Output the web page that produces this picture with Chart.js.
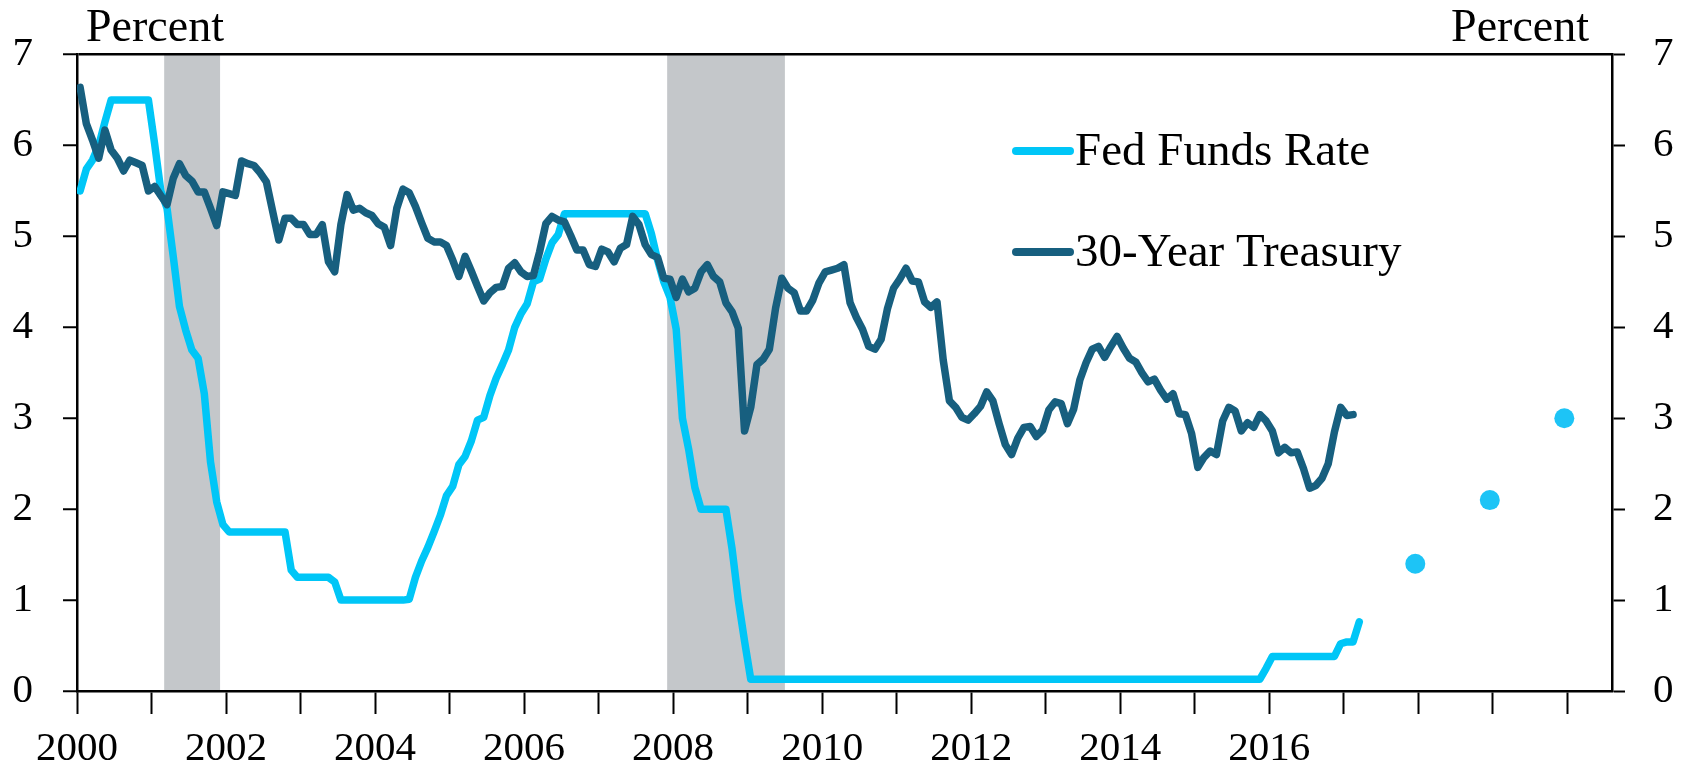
<!DOCTYPE html>
<html>
<head>
<meta charset="utf-8">
<title>Fed Funds Rate and 30-Year Treasury</title>
<script src="https://cdn.jsdelivr.net/npm/chart.js@4.4.1/dist/chart.umd.min.js"></script>
<style>
  html, body { margin: 0; padding: 0; background: #fff; }
  #wrap { width: 1687px; height: 765px; }
</style>
</head>
<body>
<div id="wrap"><canvas id="rates" width="1687" height="765"></canvas></div>
<script>
// Monthly series, first value is January 2000
const startYear = 2000;

// Fed funds rate (monthly average of target, %)
const fedFunds = [
    5.50, 5.74, 5.84, 6.00, 6.26, 6.50, 6.50, 6.50, 6.50, 6.50, 6.50, 6.50,
    6.02, 5.50, 5.31, 4.78, 4.23, 3.97, 3.75, 3.66, 3.27, 2.52, 2.08, 1.83,
    1.75, 1.75, 1.75, 1.75, 1.75, 1.75, 1.75, 1.75, 1.75, 1.75, 1.33, 1.25,
    1.25, 1.25, 1.25, 1.25, 1.25, 1.20, 1.00, 1.00, 1.00, 1.00, 1.00, 1.00,
    1.00, 1.00, 1.00, 1.00, 1.00, 1.01, 1.25, 1.43, 1.58, 1.75, 1.93, 2.15,
    2.25, 2.49, 2.58, 2.75, 2.98, 3.01, 3.25, 3.44, 3.59, 3.75, 4.00, 4.15,
    4.26, 4.50, 4.53, 4.75, 4.93, 5.02, 5.25, 5.25, 5.25, 5.25, 5.25, 5.25,
    5.25, 5.25, 5.25, 5.25, 5.25, 5.25, 5.25, 5.25, 5.03, 4.74, 4.50, 4.33,
    3.98, 3.00, 2.66, 2.24, 2.00, 2.00, 2.00, 2.00, 2.00, 1.56, 1.00, 0.55,
    0.13, 0.13, 0.13, 0.13, 0.13, 0.13, 0.13, 0.13, 0.13, 0.13, 0.13, 0.13,
    0.13, 0.13, 0.13, 0.13, 0.13, 0.13, 0.13, 0.13, 0.13, 0.13, 0.13, 0.13,
    0.13, 0.13, 0.13, 0.13, 0.13, 0.13, 0.13, 0.13, 0.13, 0.13, 0.13, 0.13,
    0.13, 0.13, 0.13, 0.13, 0.13, 0.13, 0.13, 0.13, 0.13, 0.13, 0.13, 0.13,
    0.13, 0.13, 0.13, 0.13, 0.13, 0.13, 0.13, 0.13, 0.13, 0.13, 0.13, 0.13,
    0.13, 0.13, 0.13, 0.13, 0.13, 0.13, 0.13, 0.13, 0.13, 0.13, 0.13, 0.13,
    0.13, 0.13, 0.13, 0.13, 0.13, 0.13, 0.13, 0.13, 0.13, 0.13, 0.13, 0.25,
    0.38, 0.38, 0.38, 0.38, 0.38, 0.38, 0.38, 0.38, 0.38, 0.38, 0.38, 0.52,
    0.54, 0.54, 0.76
];

// 30-year Treasury yield (monthly, %)
const treasury30 = [
    6.64, 6.24, 6.06, 5.86, 6.17, 5.95, 5.86, 5.72, 5.84, 5.81, 5.78, 5.50,
    5.55, 5.45, 5.35, 5.64, 5.80, 5.67, 5.61, 5.49, 5.49, 5.31, 5.12, 5.49,
    5.47, 5.45, 5.83, 5.80, 5.78, 5.70, 5.60, 5.28, 4.96, 5.20, 5.20, 5.13,
    5.13, 5.02, 5.02, 5.13, 4.72, 4.61, 5.13, 5.46, 5.29, 5.31, 5.26, 5.23,
    5.14, 5.10, 4.90, 5.31, 5.52, 5.48, 5.33, 5.15, 4.98, 4.94, 4.94, 4.90,
    4.74, 4.56, 4.78, 4.62, 4.45, 4.29, 4.38, 4.44, 4.45, 4.65, 4.71, 4.61,
    4.56, 4.57, 4.83, 5.14, 5.22, 5.18, 5.16, 5.01, 4.85, 4.85, 4.69, 4.67,
    4.86, 4.83, 4.72, 4.87, 4.91, 5.22, 5.13, 4.91, 4.80, 4.77, 4.54, 4.53,
    4.33, 4.53, 4.39, 4.43, 4.61, 4.69, 4.56, 4.50, 4.27, 4.17, 3.99, 2.86,
    3.12, 3.59, 3.65, 3.76, 4.21, 4.54, 4.43, 4.38, 4.18, 4.18, 4.30, 4.49,
    4.61, 4.63, 4.65, 4.69, 4.27, 4.11, 3.98, 3.79, 3.76, 3.87, 4.20, 4.43,
    4.53, 4.65, 4.51, 4.50, 4.28, 4.22, 4.28, 3.64, 3.19, 3.12, 3.01, 2.98,
    3.05, 3.13, 3.29, 3.19, 2.94, 2.71, 2.60, 2.78, 2.90, 2.91, 2.80, 2.87,
    3.09, 3.18, 3.16, 2.94, 3.10, 3.42, 3.61, 3.76, 3.79, 3.67, 3.79, 3.90,
    3.77, 3.66, 3.62, 3.50, 3.40, 3.43, 3.31, 3.21, 3.27, 3.05, 3.04, 2.83,
    2.46, 2.57, 2.64, 2.60, 2.97, 3.12, 3.08, 2.86, 2.95, 2.90, 3.04, 2.97,
    2.86, 2.62, 2.68, 2.62, 2.63, 2.45, 2.23, 2.26, 2.34, 2.50, 2.85, 3.12,
    3.03, 3.04
];

// FOMC median projections (year-end)
const projYears = [2017.96, 2018.96, 2019.96];
const projValues = [1.4, 2.1, 3.0];

// Recessions [start, end] in fractional years
const recessions = [[2001.17, 2001.92], [2007.92, 2009.5]];

const yTicks = [0, 1, 2, 3, 4, 5, 6, 7];
const xLabelYears = [2000, 2002, 2004, 2006, 2008, 2010, 2012, 2014, 2016];

const FF_COLOR = '#00C6F7';
const UST_COLOR = '#175F7F';
const SERIF = '"Liberation Serif", "Times New Roman", serif';

// month index -> mid-month position on the year axis
const toPoints = values => values.map((v, i) => ({ x: startYear + (i + 0.5) / 12, y: v }));

Chart.defaults.font.family = SERIF;
Chart.defaults.font.size = 41;
Chart.defaults.color = '#000';

// Recession bars, "Percent" titles and the in-plot legend
const overlay = {
    id: 'overlay',
    beforeDraw(chart) {
        const { ctx, chartArea: a, scales: { x } } = chart;
        ctx.save();
        ctx.fillStyle = '#C4C7CA';
        recessions.forEach(([s, e]) => {
            const x0 = x.getPixelForValue(s);
            const x1 = x.getPixelForValue(e);
            ctx.fillRect(x0, a.top, x1 - x0, a.bottom - a.top);
        });
        ctx.restore();
    },
    afterDraw(chart) {
        const { ctx, chartArea: a } = chart;
        ctx.save();
        ctx.font = '46px ' + SERIF;
        ctx.fillStyle = '#000';
        ctx.textBaseline = 'alphabetic';
        ctx.textAlign = 'left';
        ctx.fillText('Percent', a.left + 9, 41);
        ctx.textAlign = 'right';
        ctx.fillText('Percent', a.right - 23, 41);

        const items = [
            { label: 'Fed Funds Rate', color: FF_COLOR, y: 151 },
            { label: '30-Year Treasury', color: UST_COLOR, y: 252 }
        ];
        ctx.font = '47px ' + SERIF;
        ctx.textAlign = 'left';
        ctx.lineCap = 'round';
        ctx.lineWidth = 8;
        items.forEach(it => {
            ctx.strokeStyle = it.color;
            ctx.beginPath();
            ctx.moveTo(1016, it.y);
            ctx.lineTo(1070, it.y);
            ctx.stroke();
            ctx.fillText(it.label, 1075, it.y + 14);
        });
        ctx.restore();
    }
};

const ctx = document.getElementById('rates').getContext('2d');
new Chart(ctx, {
    type: 'line',
    data: {
        datasets: [{
            label: 'Fed Funds Rate',
            data: toPoints(fedFunds),
            borderColor: FF_COLOR,
            borderWidth: 7.5,
            borderJoinStyle: 'round',
            borderCapStyle: 'round',
            pointRadius: 0,
            tension: 0,
            order: 1
        }, {
            label: '30-Year Treasury',
            data: toPoints(treasury30),
            borderColor: UST_COLOR,
            borderWidth: 7.5,
            borderJoinStyle: 'round',
            borderCapStyle: 'round',
            pointRadius: 0,
            tension: 0,
            order: 0
        }, {
            label: 'Projections',
            data: projYears.map((yr, i) => ({ x: yr, y: projValues[i] })),
            showLine: false,
            pointRadius: 10,
            pointBackgroundColor: '#1DC4F6',
            pointBorderWidth: 0,
            order: 2
        }]
    },
    options: {
        responsive: false,
        animation: false,
        events: [],
        layout: { padding: { top: 52, left: 0, right: 0, bottom: 0 } },
        plugins: {
            legend: { display: false },
            tooltip: { enabled: false }
        },
        scales: {
            x: {
                type: 'linear',
                min: 2000,
                max: 2020.6,
                afterFit: s => { s.height = 74; },
                border: { color: '#000', width: 2.5 },
                grid: {
                    drawOnChartArea: false,
                    tickLength: 23,
                    tickColor: '#000',
                    tickWidth: 2
                },
                ticks: {
                    stepSize: 1,
                    autoSkip: false,
                    includeBounds: false,
                    maxRotation: 0,
                    padding: 11,
                    callback: v => xLabelYears.includes(Math.round(v)) ? String(Math.round(v)) : ''
                }
            },
            y: {
                position: 'left',
                min: yTicks[0],
                max: yTicks[yTicks.length - 1],
                afterFit: s => { s.width = 77; },
                border: { color: '#000', width: 2.5 },
                grid: {
                    color: c => (c.tick && c.tick.value === 7) ? '#000' : 'rgba(0,0,0,0)',
                    lineWidth: 2.5,
                    tickLength: 14,
                    tickColor: '#000',
                    tickWidth: 2
                },
                ticks: { stepSize: 1, padding: 30 }
            },
            y2: {
                position: 'right',
                min: yTicks[0],
                max: yTicks[yTicks.length - 1],
                afterFit: s => { s.width = 75; },
                border: { color: '#000', width: 2.5 },
                grid: {
                    drawOnChartArea: false,
                    tickLength: 13,
                    tickColor: '#000',
                    tickWidth: 2
                },
                ticks: { stepSize: 1, padding: 28 }
            }
        }
    },
    plugins: [overlay]
});
</script>
</body>
</html>
